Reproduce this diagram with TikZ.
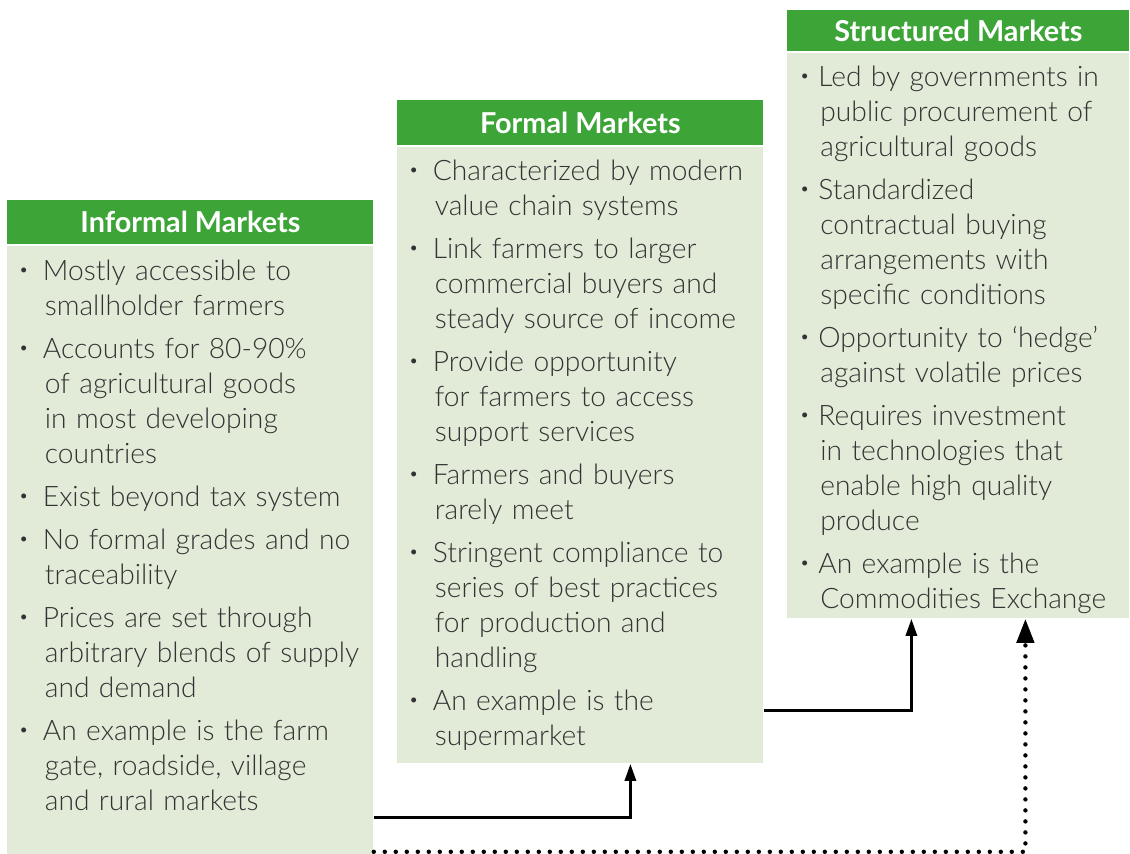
\documentclass[tikz,border=0pt]{standalone}
\usepackage{fontspec}
\setmainfont{Lato}
\newfontfamily\lightfont{Lato Light}
\usetikzlibrary{arrows.meta}

\definecolor{hdgreen}{HTML}{3DA538}
\definecolor{bdgreen}{HTML}{E2EBD8}
\definecolor{txtgray}{HTML}{333333}

% one bullet line, bullet box width in \bulw
\newcommand{\bitem}[1]{\par\hangindent=\dimexpr\bulw+1pt\relax\hangafter=1\noindent
  \makebox[\bulw][l]{\raisebox{0.18em}{\scalebox{0.6}{\textbullet}}}\strut #1\par}

\tikzset{
  head/.style={fill=hdgreen, text=white, anchor=north west, inner sep=0pt,
    font=\fontsize{14.4}{16}\selectfont\bfseries},
  body/.style={fill=bdgreen, anchor=north west, inner sep=0pt},
  list/.style={anchor=north west, inner sep=0pt, text width=200pt, align=left,
    text=txtgray, font=\lightfont\fontsize{14.1}{17.5}\selectfont,
    execute at begin node={\setlength{\parskip}{4pt}\def\bulw{#1}}},
  list/.default=12pt,
  flow/.style={-{Triangle[length=8.5pt,width=5.5pt]}, line width=1.5pt},
  dotflow/.style={-{Triangle[length=12pt,width=8.5pt]}, line width=2.2pt,
    line cap=round, dash pattern=on 0pt off 5.5pt},
}

\begin{document}
\begin{tikzpicture}[x=0.5pt,y=-0.5pt]

  \useasboundingbox (0,0) rectangle (1130,854);

  % informal
  \node [head, minimum width=183pt, minimum height=22pt] (infhd) at (7,200) {Informal Markets};
  \node [body, minimum width=183pt, minimum height=304pt] (inf) at (7,246) {};
  \node [list] (inftxt) at (18.5,237.5) {%
    \bitem{Mostly accessible to\newline smallholder farmers}
    \bitem{Accounts for 80-90\%\newline of agricultural goods\newline in most developing\newline countries}
    \bitem{Exist beyond tax system}
    \bitem{No formal grades and no\newline traceability}
    \bitem{Prices are set through\newline arbitrary blends of supply\newline and demand}
    \bitem{An example is the farm\newline gate, roadside, village\newline and rural markets}};

  % formal
  \node [head, minimum width=183pt, minimum height=22.5pt] (fmlhd) at (397,100) {Formal Markets};
  \node [body, minimum width=183pt, minimum height=308pt] (fml) at (397,147) {};
  \node [list] (fmltxt) at (408.5,137.5) {%
    \bitem{Characterized by modern\newline value chain systems}
    \bitem{Link farmers to larger\newline commercial buyers and\newline steady source of income}
    \bitem{Provide opportunity\newline for farmers to access\newline support services}
    \bitem{Farmers and buyers\newline rarely meet}
    \bitem{Stringent compliance to\newline series of best practices\newline for production and\newline handling}
    \bitem{An example is the\newline supermarket}};

  % structured
  \node [head, minimum width=171pt, minimum height=20.5pt] (strhd) at (787,10) {Structured Markets};
  \node [body, minimum width=171pt, minimum height=282.5pt] (str) at (787,53) {};
  \node [list=9.25pt] (strtxt) at (799.5,43.5) {%
    \bitem{Led by governments in\newline public procurement of\newline agricultural goods}
    \bitem{Standardized\newline contractual buying\newline arrangements with\newline specific conditions}
    \bitem{Opportunity to ‘hedge’\newline against volatile prices}
    \bitem{Requires investment\newline in technologies that\newline enable high quality\newline produce}
    \bitem{An example is the\newline Commodities Exchange}};

  % links
  \draw [flow] ([yshift=18.5pt]inf.south east) -| ([xshift=25pt]fml.south);
  \draw [flow] ([yshift=26.5pt]fml.south east) -| ([xshift=-23.5pt]str.south);
  \draw [dotflow] ([yshift=1.5pt]inf.south east) -| ([xshift=33.5pt]str.south);

\end{tikzpicture}
\end{document}
